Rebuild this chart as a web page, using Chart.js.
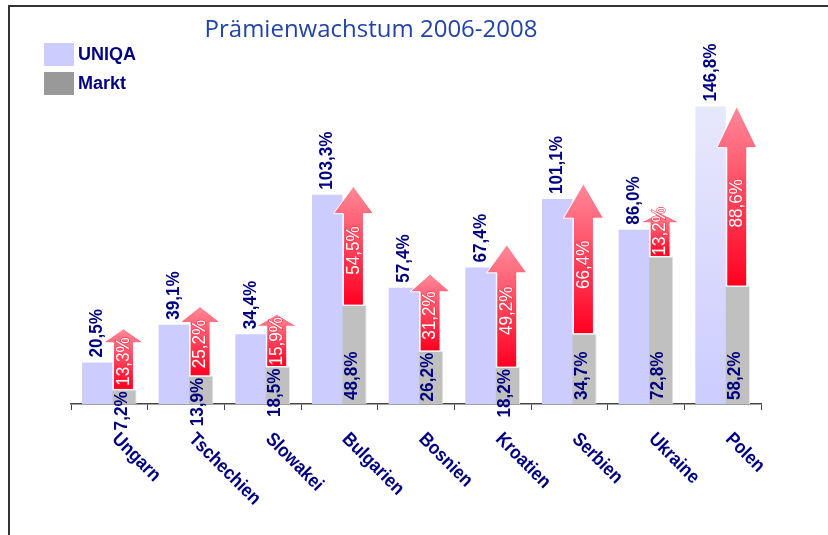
<!DOCTYPE html>
<html lang="de">
<head>
<meta charset="utf-8">
<title>Prämienwachstum 2006-2008</title>
<script src="https://cdn.jsdelivr.net/npm/chart.js@4.4.1/dist/chart.umd.min.js"></script>
<style>
    html, body { margin: 0; padding: 0; background: #fff; }
    #wrap { position: relative; width: 828px; height: 535px; }
</style>
</head>
<body>
<div id="wrap"><canvas id="chart"></canvas></div>
<script>
// Prämienwachstum 2006-2008: UNIQA vs. Markt, per country
const categories = ['Ungarn', 'Tschechien', 'Slowakei', 'Bulgarien', 'Bosnien', 'Kroatien', 'Serbien', 'Ukraine', 'Polen'];
const uniqaGrowth = [20.5, 39.1, 34.4, 103.3, 57.4, 67.4, 101.1, 86.0, 146.8];
const marktGrowth = [7.2, 13.9, 18.5, 48.8, 26.2, 18.2, 34.7, 72.8, 58.2];
// Lead of UNIQA over the market, written on the arrows
const leadLabels = [13.3, 25.2, 15.9, 54.5, 31.2, 49.2, 66.4, 13.2, 88.6];
const arrowTips = [37.1, 48.1, 44.3, 107.4, 64.1, 78.6, 108.7, 94.4, 146.9];

const NAVY = '#000080';
const LABEL_FONT = 'bold 19px "Liberation Sans", Arial, sans-serif';
const ARROW_FONT = '19px "Liberation Sans", Arial, sans-serif';
const SQUEEZE = 0.9;   // the original text is slightly condensed

const fmt = v => v.toFixed(1).replace('.', ',') + '%';

const textLength = (ctx, text, font) => {
    ctx.save();
    ctx.font = font;
    const w = ctx.measureText(text).width * SQUEEZE;
    ctx.restore();
    return w;
};

// Text drawn at an angle from (x, y), condensed along its direction
const angledText = (ctx, text, x, y, angle, font, color, baseline, outline) => {
    ctx.save();
    ctx.translate(x, y);
    ctx.rotate(angle);
    ctx.scale(SQUEEZE, 1);
    ctx.font = font;
    ctx.textAlign = 'left';
    ctx.textBaseline = baseline;
    if (outline) {
        ctx.strokeStyle = outline;
        ctx.lineWidth = 1.2;
        ctx.strokeText(text, 0, 0);
    }
    ctx.fillStyle = color;
    ctx.fillText(text, 0, 0);
    ctx.restore();
};

const drawArrow = (ctx, cx, yBottom, yTip) => {
    const len = yBottom - yTip;
    const yNeck = yTip + len * 0.23;
    const shaft = 10, head = 20;
    ctx.save();
    ctx.beginPath();
    ctx.moveTo(cx - shaft, yBottom);
    ctx.lineTo(cx - shaft, yNeck);
    ctx.lineTo(cx - head, yNeck);
    ctx.lineTo(cx, yTip);
    ctx.lineTo(cx + head, yNeck);
    ctx.lineTo(cx + shaft, yNeck);
    ctx.lineTo(cx + shaft, yBottom);
    ctx.closePath();
    const grad = ctx.createLinearGradient(0, yTip, 0, yBottom);
    grad.addColorStop(0, '#ff8a9a');
    grad.addColorStop(1, '#ff0020');
    ctx.fillStyle = grad;
    ctx.fill();
    ctx.strokeStyle = '#ffffff';
    ctx.lineWidth = 1;
    ctx.stroke();
    ctx.restore();
};

// Frame, title and legend
const decorPlugin = {
    id: 'decor',
    afterDraw(chart) {
        const ctx = chart.ctx;
        ctx.save();
        ctx.strokeStyle = '#333333';
        ctx.lineWidth = 2;
        ctx.beginPath();
        ctx.moveTo(9, 535);
        ctx.lineTo(9, 6);
        ctx.lineTo(828, 6);
        ctx.stroke();

        ctx.font = '24px "Open Sans", sans-serif';
        ctx.fillStyle = '#2244a8';
        ctx.textAlign = 'center';
        ctx.textBaseline = 'alphabetic';
        ctx.fillText('Prämienwachstum 2006-2008', 371, 37);

        const legend = [['UNIQA', '#ccccff', 43], ['Markt', '#999999', 72]];
        ctx.font = 'bold 18px "Liberation Sans", Arial, sans-serif';
        ctx.textAlign = 'left';
        ctx.textBaseline = 'middle';
        legend.forEach(([name, color, y]) => {
            ctx.fillStyle = color;
            ctx.fillRect(44, y, 30, 23);
            ctx.fillStyle = NAVY;
            ctx.fillText(name, 78, y + 12);
        });
        ctx.restore();
    }
};

// Arrows, value labels and slanted country names
const labelPlugin = {
    id: 'labels',
    afterDatasetsDraw(chart) {
        const ctx = chart.ctx;
        const y = chart.scales.y;
        const x = chart.scales.x;
        const base = y.getPixelForValue(0);
        const uniqaBars = chart.getDatasetMeta(0).data;
        const marktBars = chart.getDatasetMeta(1).data;
        const up = -Math.PI / 2;

        categories.forEach((cat, i) => {
            const cx = marktBars[i].x + 2;
            const yBottom = y.getPixelForValue(marktGrowth[i]);
            const yTip = y.getPixelForValue(arrowTips[i]);
            drawArrow(ctx, cx, yBottom, yTip);

            const text = fmt(leadLabels[i]);
            const w = textLength(ctx, text, ARROW_FONT);
            const len = yBottom - yTip;
            const center = Math.min((yTip + yBottom) / 2 + len * 0.04, yBottom - 1 - w / 2);
            angledText(ctx, text, cx, center + w / 2, up, ARROW_FONT, '#ffffff', 'middle', '#ff3048');
        });

        categories.forEach((cat, i) => {
            const u = uniqaBars[i];
            angledText(ctx, fmt(uniqaGrowth[i]), u.x, u.y - 5, up, LABEL_FONT, NAVY, 'middle');

            const m = marktBars[i];
            const text = fmt(marktGrowth[i]);
            const w = textLength(ctx, text, LABEL_FONT);
            const start = Math.max(base - 4, m.y + 2 + w);
            angledText(ctx, text, m.x, start, up, LABEL_FONT, NAVY, 'middle');
        });

        categories.forEach((cat, i) => {
            const px = x.getPixelForValue(i);
            angledText(ctx, cat, px + 2, base + 36, Math.PI / 4, LABEL_FONT, NAVY, 'alphabetic');
        });
    }
};

// Top bar (Polen) fades lighter towards its top
const uniqaColor = c => {
    const last = categories.length - 1;
    if (c.dataIndex !== last || !c.chart.scales.y) return '#ccccff';
    const ys = c.chart.scales.y;
    const top = ys.getPixelForValue(uniqaGrowth[last]);
    const bottom = ys.getPixelForValue(0);
    if (!isFinite(top) || !isFinite(bottom)) return '#ccccff';
    const grad = c.chart.ctx.createLinearGradient(0, top, 0, bottom);
    grad.addColorStop(0, '#e8e8fc');
    grad.addColorStop(1, '#ccccff');
    return grad;
};

new Chart(document.getElementById('chart'), {
    type: 'bar',
    data: {
        labels: categories,
        datasets: [
            {
                label: 'UNIQA',
                data: uniqaGrowth,
                backgroundColor: uniqaColor,
                borderWidth: 0
            },
            {
                label: 'Markt',
                data: marktGrowth,
                backgroundColor: '#c0c0c0',
                borderColor: '#e8e8e8',
                borderWidth: 1
            }
        ]
    },
    options: {
        responsive: true,
        maintainAspectRatio: false,
        animation: false,
        events: [],
        categoryPercentage: 0.631,
        barPercentage: 1.26,
        layout: { padding: { left: 71, right: 67, top: 100, bottom: 125 } },
        plugins: {
            legend: { display: false },
            title: { display: false },
            tooltip: { enabled: false }
        },
        scales: {
            x: {
                offset: true,
                ticks: { display: false },
                grid: {
                    offset: true,
                    drawOnChartArea: false,
                    drawTicks: true,
                    tickLength: 6,
                    color: '#444444',
                    lineWidth: 1
                },
                border: { display: true, color: '#444444', width: 1.5 }
            },
            y: {
                display: false,
                min: 0,
                max: 150
            }
        }
    },
    plugins: [decorPlugin, labelPlugin]
});
</script>
</body>
</html>
